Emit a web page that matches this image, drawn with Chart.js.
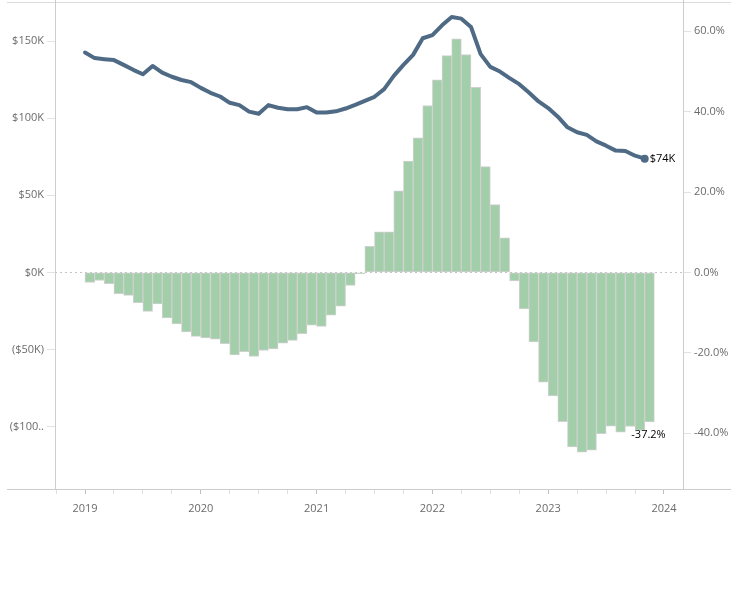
<!DOCTYPE html>
<html>
<head>
<meta charset="utf-8">
<script src="https://cdn.jsdelivr.net/npm/chart.js@4.4.1/dist/chart.umd.min.js"></script>
<style>
  body { margin: 0; background: #fff; }
  canvas { display: block; }
</style>
</head>
<body>
<canvas id="chart" width="743" height="592"></canvas>
<script>
// monthly series, Jan 2019 .. Nov 2023 (index 0 = Jan 2019)
const yearLabels = ['2019', '2020', '2021', '2022', '2023', '2024'];

// line, left axis, in $K
const priceK = [
  142.6, 139.0, 138.3, 137.7, 134.6, 131.4, 128.5, 133.9, 129.6, 126.9, 124.8, 123.4,
  119.7, 116.5, 114.1, 110.0, 108.5, 104.3, 102.9, 108.5, 106.8, 105.8, 105.8, 107.2,
  103.7, 103.7, 104.5, 106.3, 108.7, 111.3, 113.9, 118.9, 127.5, 134.6, 141.1, 151.9,
  153.9, 160.3, 165.7, 164.6, 159.2, 141.6, 133.3, 130.3, 126.0, 122.1, 116.7, 110.9,
  106.6, 101.0, 94.1, 90.9, 89.2, 85.0, 82.2, 79.0, 78.8, 75.7, 73.8
];

// bars, right axis, year-over-year change in %
const yoyPct = [
  -2.5, -2.0, -2.8, -5.3, -5.7, -7.5, -9.7, -7.8, -11.3, -12.8, -14.8, -15.9,
  -16.3, -16.6, -17.7, -20.5, -19.7, -20.9, -19.4, -19.0, -17.6, -16.9, -15.2, -13.1,
  -13.4, -10.6, -8.4, -3.2, -0.3, 6.5, 10.1, 10.1, 20.3, 27.7, 33.5, 41.5,
  47.9, 53.9, 58.1, 54.2, 46.0, 26.3, 16.9, 8.6, -2.1, -9.1, -17.3, -27.3,
  -30.7, -37.1, -43.4, -44.7, -44.2, -40.1, -38.2, -39.7, -38.3, -39.3, -37.2
];

const dollarTicks = [-100, -50, 0, 50, 100, 150];
const pctTicks = [-40, -20, 0, 20, 40, 60];
const quarterTicks = [];
for (let m = -3; m <= 60; m += 3) quarterTicks.push(m);

const GREY_TEXT = '#6b6b6b';
const FONT = { family: "'Open Sans', sans-serif", size: 11 };

// frame lines and the two end labels
const frameAndLabels = {
  id: 'frameAndLabels',
  afterDraw(chart) {
    const { ctx, chartArea: a } = chart;
    ctx.save();
    ctx.lineWidth = 1;
    ctx.strokeStyle = '#dcdcdc';
    ctx.beginPath();
    ctx.moveTo(7, 2.5); ctx.lineTo(731, 2.5);
    ctx.stroke();
    ctx.strokeStyle = '#cdcdcd';
    ctx.beginPath();
    ctx.moveTo(7, a.bottom + 0.5); ctx.lineTo(731, a.bottom + 0.5);
    ctx.moveTo(a.left + 0.5, 0); ctx.lineTo(a.left + 0.5, a.bottom);
    ctx.moveTo(a.right + 0.5, 0); ctx.lineTo(a.right + 0.5, a.bottom);
    ctx.stroke();

    ctx.fillStyle = '#000';
    ctx.font = "11px 'Open Sans', sans-serif";
    ctx.textBaseline = 'middle';

    const lineMeta = chart.getDatasetMeta(1);
    const lastPt = lineMeta.data[lineMeta.data.length - 1];
    ctx.textAlign = 'left';
    ctx.fillText('$' + Math.round(priceK[priceK.length - 1]) + 'K', lastPt.x + 5, lastPt.y);

    const barMeta = chart.getDatasetMeta(0);
    const lastBar = barMeta.data[barMeta.data.length - 1];
    ctx.textAlign = 'center';
    ctx.fillText(yoyPct[yoyPct.length - 1].toFixed(1) + '%', lastBar.x - 1, lastBar.y + 13);
    ctx.restore();
  }
};

function dollarLabel(v) {
  let s = v < 0 ? '($' + (-v) + 'K)' : '$' + v + 'K';
  if (s.length > 6) s = s.slice(0, 5) + '..';
  return s;
}

function noPad(s) {
  s.paddingTop = 0; s.paddingBottom = 0; s.paddingLeft = 0; s.paddingRight = 0;
}

new Chart(document.getElementById('chart'), {
  type: 'bar',
  data: {
    datasets: [
      {
        type: 'bar',
        data: yoyPct.map((v, i) => ({ x: i + 0.5, y: v })),
        yAxisID: 'y1',
        backgroundColor: '#a2cea9',
        borderColor: '#d0d0d0',
        borderWidth: 1,
        borderSkipped: false,
        barPercentage: 1,
        categoryPercentage: 1,
        order: 2
      },
      {
        type: 'line',
        data: priceK.map((v, i) => ({ x: i, y: v })),
        yAxisID: 'y',
        borderColor: '#4f6a85',
        backgroundColor: '#4f6a85',
        borderWidth: 4,
        tension: 0,
        pointRadius: ctx => ctx.dataIndex === priceK.length - 1 ? 4 : 0,
        pointBorderWidth: 0,
        pointHoverRadius: 0,
        borderJoinStyle: 'round',
        borderCapStyle: 'round',
        order: 1
      }
    ]
  },
  options: {
    responsive: false,
    animation: false,
    layout: { padding: { top: 3, left: 0, right: 0, bottom: 0 } },
    plugins: {
      legend: { display: false },
      tooltip: { enabled: false }
    },
    scales: {
      x: {
        type: 'linear',
        min: -3.11,
        max: 61.97,
        offset: false,
        afterFit: s => { s.height = 103; noPad(s); },
        afterBuildTicks: s => { s.ticks = quarterTicks.map(v => ({ value: v })); },
        border: { display: false },
        grid: {
          offset: false,
          drawOnChartArea: false,
          drawTicks: true,
          tickLength: 5,
          tickColor: c => (c.tick && c.tick.value % 12 === 0) ? '#bdbdbd' : '#dedede'
        },
        ticks: {
          autoSkip: false,
          maxRotation: 0,
          padding: 8,
          color: GREY_TEXT,
          font: FONT,
          callback: v => v % 12 === 0 ? yearLabels[v / 12] : ''
        }
      },
      y: {
        position: 'left',
        min: -140.5,
        max: 174.1,
        afterFit: s => { s.width = 55; noPad(s); },
        afterBuildTicks: s => { s.ticks = dollarTicks.map(v => ({ value: v })); },
        border: { display: false, dash: [2, 3] },
        grid: {
          drawOnChartArea: true,
          color: c => (c.tick && c.tick.value === 0) ? '#c4c4c4' : 'rgba(0,0,0,0)',
          tickLength: 8,
          tickColor: '#e2e2e2'
        },
        ticks: {
          padding: 3,
          color: GREY_TEXT,
          font: FONT,
          callback: v => dollarLabel(v)
        }
      },
      y1: {
        position: 'right',
        min: -53.85,
        max: 66.75,
        afterFit: s => { s.width = 60; noPad(s); },
        afterBuildTicks: s => { s.ticks = pctTicks.map(v => ({ value: v })); },
        border: { display: false },
        grid: {
          drawOnChartArea: false,
          tickLength: 8,
          tickColor: '#e2e2e2'
        },
        ticks: {
          padding: 3,
          color: GREY_TEXT,
          font: FONT,
          callback: v => v.toFixed(1) + '%'
        }
      }
    }
  },
  plugins: [frameAndLabels]
});
</script>
</body>
</html>
